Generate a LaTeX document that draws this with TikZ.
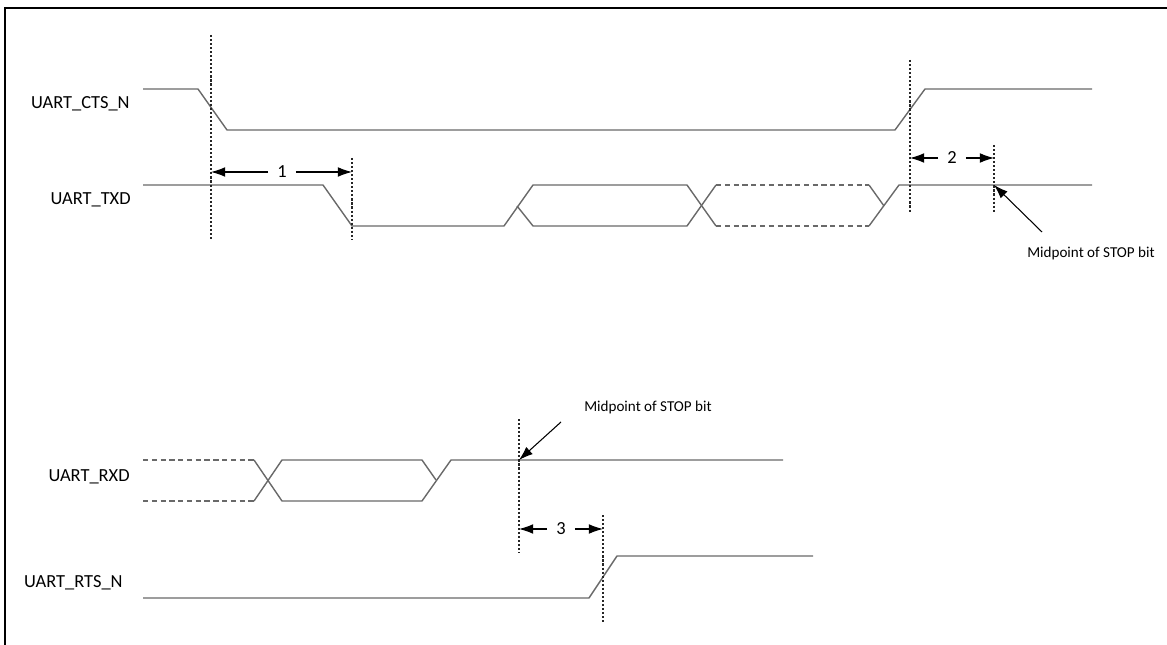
\documentclass[tikz,border=0pt]{standalone}
\usepackage{fontspec}
\setmainfont{Carlito}
\usetikzlibrary{arrows.meta}
\definecolor{sigGray}{RGB}{105,105,105}
\tikzset{
	sig/.style={draw=sigGray, line width=0.8pt, line join=round},
	sigdash/.style={sig, dash pattern=on 3pt off 2pt},
	marker/.style={draw=black!85, line width=0.6pt, dash pattern=on 1.2pt off 1.1pt},
	dimarrow/.style={-{Latex[length=8pt,width=5.5pt]}, line width=0.6pt},
	signame/.style={anchor=east, inner sep=0pt, font=\fontsize{10.5}{12}\selectfont},
	dimnum/.style={inner sep=0pt, minimum width=15.5pt, font=\fontsize{10.5}{12}\selectfont},
	note/.style={inner sep=0pt, font=\fontsize{8.6}{10}\selectfont},
}
\begin{document}
\begin{tikzpicture}[x=0.02cm, y=-0.02cm]
	\useasboundingbox (0,0) rectangle (1167,645);
	\draw[line width=1.1pt] (5,645) -- (5,8) -- (1167,8);

	\node[signame] (cts) at (130,104) {UART\_CTS\_N};
	\node[signame] (txd) at (131,200) {UART\_TXD};
	\node[signame] (rxd) at (130,477) {UART\_RXD};
	\node[signame] (rts) at (123,583) {UART\_RTS\_N};

	% waveforms
	\draw[sig] (143,89) -- (198,89) -- (227,130) -- (895,130) -- (925,89) -- (1092,89);
	\draw[sig] (143,185) -- (323,185) -- (352,226) -- (504,226) -- (533,185) -- (687,185) -- (716,226);
	\draw[sig] (517,206) -- (533,226) -- (687,226) -- (716,185);
	\draw[sigdash] (716,185) -- (869,185);
	\draw[sigdash] (716,226) -- (869,226);
	\draw[sig] (869,185) -- (884,206);
	\draw[sig] (869,226) -- (899,185) -- (1092,185);
	\draw[sigdash] (143,460) -- (254,460);
	\draw[sigdash] (143,501) -- (254,501);
	\draw[sig] (254,460) -- (282,501) -- (422,501) -- (451,460) -- (783,460);
	\draw[sig] (254,501) -- (282,460) -- (422,460) -- (436,480);
	\draw[sig] (143,598) -- (589,598) -- (617,556) -- (813,556);

	% timing markers
	\draw[marker] (211,35) coordinate (m1) -- (211,240);
	\draw[marker] (352,158) coordinate (m2) -- (352,240);
	\draw[marker] (910,60) coordinate (m3) -- (910,212);
	\draw[marker] (994,145) coordinate (m4) -- (994,212);
	\draw[marker] (519,419) coordinate (m5) -- (519,553);
	\draw[marker] (603,515) coordinate (m6) -- (603,623);

	\node[dimnum] (d1) at (282,172) {1};
	\draw[dimarrow] (d1) -- (m1 |- d1);
	\draw[dimarrow] (d1) -- (m2 |- d1);
	\node[dimnum] (d2) at (952,158) {2};
	\draw[dimarrow] (d2) -- (m3 |- d2);
	\draw[dimarrow] (d2) -- (m4 |- d2);
	\node[dimnum] (d3) at (561,529) {3};
	\draw[dimarrow] (d3) -- (m5 |- d3);
	\draw[dimarrow] (d3) -- (m6 |- d3);

	\node[note] (stopa) at (1091,253) {Midpoint of STOP bit};
	\coordinate (taila) at (1042,232);
	\coordinate (stoptx) at (994,185);
	\draw[dimarrow] (taila) -- (stoptx);
	\node[note] (stopb) at (648,407) {Midpoint of STOP bit};
	\coordinate (tailb) at (561,422);
	\coordinate (stoprx) at (519,460);
	\draw[dimarrow] (tailb) -- (stoprx);
\end{tikzpicture}
\end{document}
